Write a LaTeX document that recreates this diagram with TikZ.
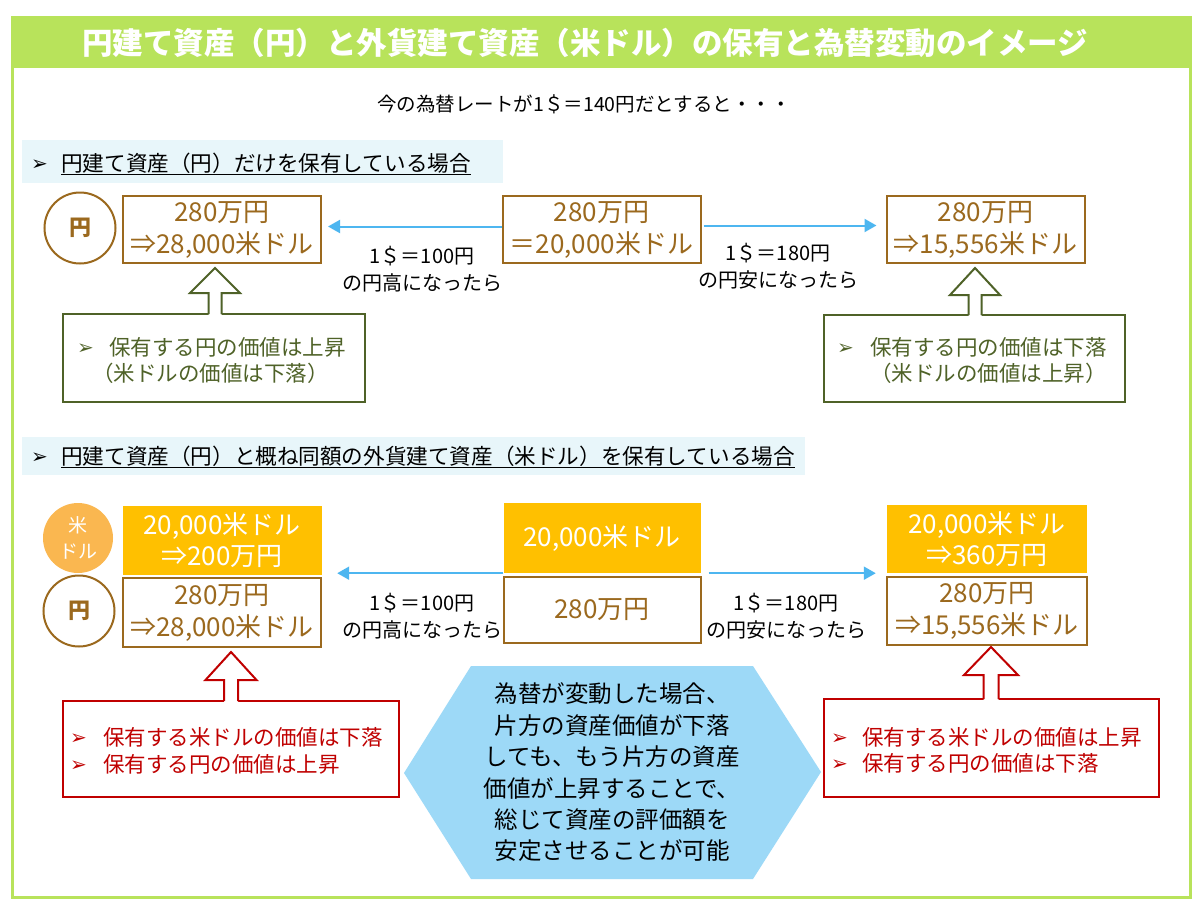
\documentclass[tikz,border=0pt]{standalone}
\usepackage{fontspec}
\setmainfont{Noto Sans CJK JP}
\newfontfamily\dv{DejaVu Sans}
\usetikzlibrary{arrows.meta}
\definecolor{frameg}{RGB}{184,227,91}
\definecolor{brn}{RGB}{155,105,30}
\definecolor{gold}{RGB}{255,192,0}
\definecolor{orng}{RGB}{250,183,80}
\definecolor{olive}{RGB}{79,98,40}
\definecolor{dred}{RGB}{192,0,0}
\definecolor{arrowblue}{RGB}{77,182,240}
\definecolor{hexblue}{RGB}{157,217,247}
\definecolor{bandblue}{RGB}{232,246,250}
\newcommand\blockup[7]{%
 \fill[white] (#2,#3) -- (#2+#6,#4) -- (#2+#7,#4) -- (#2+#7,#5+2) -- (#2-#7,#5+2) -- (#2-#7,#4) -- (#2-#6,#4) -- cycle;
 \draw[#1, line width=2, line join=miter] (#2+#7,#5) -- (#2+#7,#4) -- (#2+#6,#4) -- (#2,#3) -- (#2-#6,#4) -- (#2-#7,#4) -- (#2-#7,#5);}
\begin{document}
\begin{tikzpicture}[x=1pt,y=-1pt,
  bbox/.style={draw=brn, line width=2, minimum width=198, minimum height=67, text=brn, align=center, inner sep=0, font=\fontsize{26}{32}\selectfont},
  gbox/.style={fill=gold, minimum width=199, minimum height=69, text=white, align=center, inner sep=0, font=\fontsize{26}{31}\selectfont},
  obox/.style={draw=olive, line width=2, inner sep=0},
  rbox/.style={draw=dred, line width=2, inner sep=0},
  circ/.style={circle, draw=brn, line width=2, minimum size=71, inner sep=0, text=brn, font=\bfseries\fontsize{22}{26}\selectfont},
  barrow/.style={draw=arrowblue, line width=2, -{Triangle[length=12,width=13]}},
  lbl/.style={align=center, inner sep=0, font=\fontsize{20}{27}\selectfont},
  gtxt/.style={anchor=base west, inner sep=0, font=\fontsize{21.5}{26}\selectfont},
  mk/.style={anchor=base west, inner sep=0, font=\dv\fontsize{20}{24}\selectfont},
  bandtxt/.style={anchor=base west, inner sep=0, font=\fontsize{21.6}{26}\selectfont}
]
\useasboundingbox (0,0) rectangle (1200,910);
\fill[white] (0,0) rectangle (1200,910);
% frame and title
\draw[frameg, line width=3] (12,17) rectangle (1190,897);
\fill[frameg] (12,17) rectangle (1190,68);
\node[text=white, inner sep=0, font=\bfseries\fontsize{30.5}{34}\selectfont] (title) at (585,43) {円建て資産（円）と外貨建て資産（米ドル）の保有と為替変動のイメージ};
\node[inner sep=0, font=\fontsize{19.5}{24}\selectfont] (sub) at (584,104) {今の為替レートが1＄＝140円だとすると・・・};

% ---------- section 1 ----------
\fill[bandblue] (22,140) rectangle (503,183);
\node[mk] (b1m) at (31,170) {➢};
\node[bandtxt] (b1t) at (61,171) {円建て資産（円）だけを保有している場合};
\draw[line width=1.3] ([yshift=-3.5pt]b1t.base west) -- ([yshift=-3.5pt]b1t.base east);

\node[circ] (c1) at (80,228) {円};
\node[bbox] (L1) at (222,229.5) {280万円\\⇒28,000米ドル};
\node[bbox] (M1) at (601.5,229.5) {280万円\\＝20,000米ドル};
\node[bbox] (R1) at (985.5,229.5) {280万円\\⇒15,556米ドル};
\draw[barrow, shorten >=6] ([yshift=3pt]M1.west) -- ([yshift=3pt]L1.east);
\draw[barrow, shorten <=2, shorten >=9] ([yshift=4pt]M1.east) -- ([yshift=4pt]R1.west);
\node[lbl] (t1) at (422,269) {1＄＝100円\\の円高になったら};
\node[lbl] (t2) at (778,266) {1＄＝180円\\の円安になったら};

\node[obox, minimum width=302, minimum height=88] (G1) at (213.5,358) {};
\node[obox, minimum width=301, minimum height=87] (G2) at (974.5,358.5) {};
\blockup{olive}{215}{268}{293}{314}{25}{6.5}
\blockup{olive}{975}{268}{295}{315}{25}{6.5}
\node[mk, text=olive] (g1m) at (77,354) {➢};
\node[gtxt, text=olive] (g1a) at (109,355) {保有する円の価値は上昇};
\node[gtxt, text=olive] (g1b) at (92,381) {（米ドルの価値は下落）};
\node[mk, text=olive] (g2m) at (837,354) {➢};
\node[gtxt, text=olive] (g2a) at (870,355) {保有する円の価値は下落};
\node[gtxt, text=olive] (g2b) at (870,381) {（米ドルの価値は上昇）};

% ---------- section 2 ----------
\fill[bandblue] (22,437) rectangle (805,475);
\node[mk] (b2m) at (31,463) {➢};
\node[bandtxt] (b2t) at (61,464) {円建て資産（円）と概ね同額の外貨建て資産（米ドル）を保有している場合};
\draw[line width=1.3] ([yshift=-3.5pt]b2t.base west) -- ([yshift=-3.5pt]b2t.base east);

\node[circle, fill=orng, minimum size=70, inner sep=0, text=white, align=center, font=\fontsize{19}{26}\selectfont] (c2) at (78,538) {米\\ドル};
\node[circ] (c3) at (79,611) {円};

\node[gbox] (L2t) at (222,540.5) {20,000米ドル\\⇒200万円};
\node[bbox, minimum height=69] (L2b) at (222,612.5) {280万円\\⇒28,000米ドル};
\node[gbox, minimum width=197, minimum height=70] (M2t) at (602,538) {20,000米ドル};
\node[bbox, minimum width=197, minimum height=66] (M2b) at (602,610) {280万円};
\node[gbox, minimum width=200, minimum height=68] (R2t) at (987,539) {20,000米ドル\\⇒360万円};
\node[bbox, minimum width=200, minimum height=68] (R2b) at (987,611) {280万円\\⇒15,556米ドル};
\draw[barrow, shorten >=15.5] (M2t.south west) -- (L2t.east |- M2t.south);
\draw[barrow, shorten <=8, shorten >=11] (M2t.south east) -- (R2t.west |- M2t.south);
\node[lbl] (t3) at (422,616.5) {1＄＝100円\\の円高になったら};
\node[lbl] (t4) at (786,616.5) {1＄＝180円\\の円安になったら};

\node[rbox, minimum width=336, minimum height=96] (G3) at (231,749) {};
\node[rbox, minimum width=335, minimum height=98] (G4) at (991.5,748) {};
\blockup{dred}{231}{652}{680}{701}{25.5}{7}
\blockup{dred}{991}{647}{675}{699}{27}{7.5}
\node[mk, text=dred] (g3m) at (70,744) {➢};
\node[gtxt, text=dred] (g3a) at (103,745) {保有する米ドルの価値は下落};
\node[mk, text=dred] (g3n) at (70,771) {➢};
\node[gtxt, text=dred] (g3b) at (103,772) {保有する円の価値は上昇};
\node[mk, text=dred] (g4m) at (831,744) {➢};
\node[gtxt, text=dred] (g4a) at (862,745) {保有する米ドルの価値は上昇};
\node[mk, text=dred] (g4n) at (831,770) {➢};
\node[gtxt, text=dred] (g4b) at (862,771) {保有する円の価値は下落};

\fill[hexblue] (404,773) -- (471,666) -- (753,666) -- (821,772) -- (753,879) -- (471,879) -- cycle;
\node[align=center, inner sep=0, font=\fontsize{23.5}{31.4}\selectfont] (hx) at (612,772.5) {為替が変動した場合、\\片方の資産価値が下落\\しても、もう片方の資産\\価値が上昇することで、\\総じて資産の評価額を\\安定させることが可能};
\end{tikzpicture}
\end{document}
